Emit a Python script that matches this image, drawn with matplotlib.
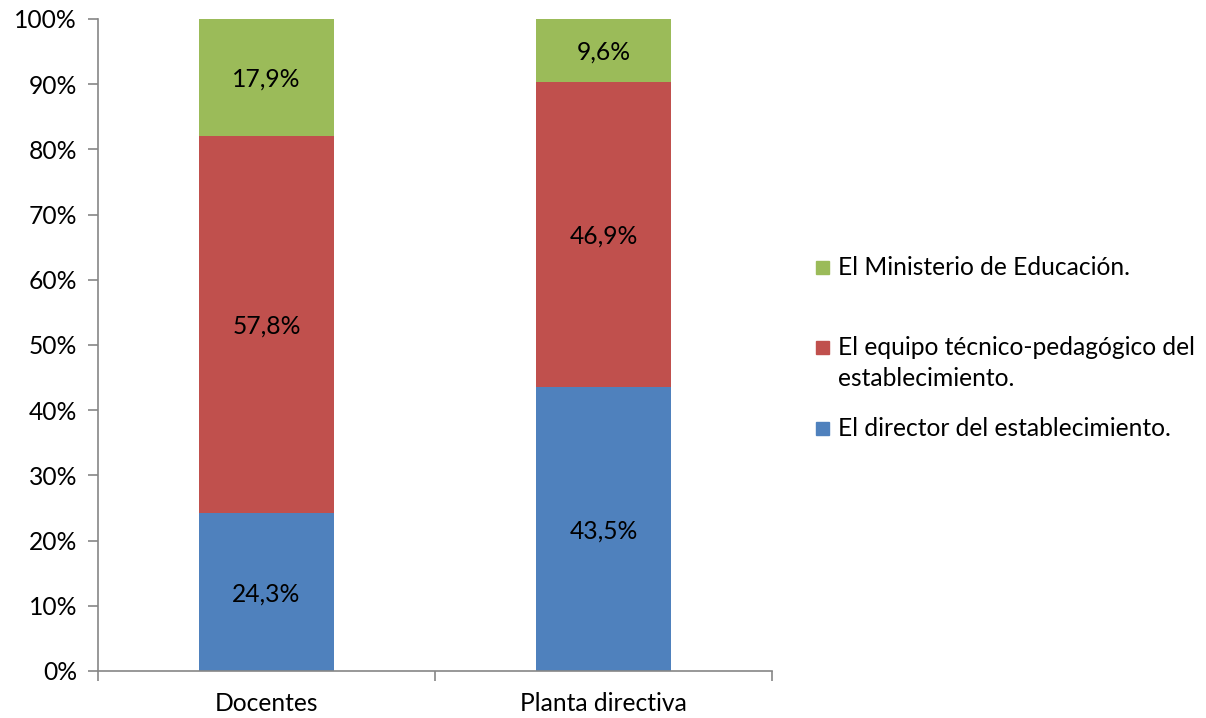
import matplotlib
matplotlib.use("Agg")
import matplotlib.pyplot as plt
from matplotlib.patches import Rectangle

plt.rcParams["font.family"] = ["Lato", "DejaVu Sans"]

categories = ["Docentes", "Planta directiva"]
series_names = [
    "El director del establecimiento.",
    "El equipo técnico-pedagógico del\nestablecimiento.",
    "El Ministerio de Educación.",
]
director = [24.3, 43.5]
equipo = [57.8, 46.9]
ministerio = [17.9, 9.6]
series_values = [director, equipo, ministerio]
colors = ["#4F81BD", "#C0504D", "#9BBB59"]
yticks = [0, 10, 20, 30, 40, 50, 60, 70, 80, 90, 100]

FS = 17.7
fig = plt.figure(figsize=(12.06, 7.18), dpi=100)
ax = fig.add_axes([98 / 1206, 1 - 671 / 718, 674 / 1206, 652 / 718])

x = list(range(len(categories)))
bottoms = [0.0] * len(categories)
for vals, col in zip(series_values, colors):
    bars = ax.bar(x, vals, width=0.4, bottom=bottoms, color=col, zorder=2)
    for b, v, base in zip(bars, vals, bottoms):
        ax.text(b.get_x() + b.get_width() / 2, base + v / 2,
                f"{v:.1f}".replace(".", ",") + "%",
                ha="center", va="center_baseline", fontsize=FS, color="black")
    bottoms = [bo + v for bo, v in zip(bottoms, vals)]

ax.set_xlim(-0.5, 1.5)
ax.set_ylim(0, 100)
ax.set_yticks(yticks)
ax.set_yticklabels([f"{t}%" for t in yticks], fontsize=FS)
ax.set_xticks(x)
ax.set_xticklabels(categories, fontsize=FS)
ax.tick_params(axis="x", length=0, pad=15)
ax.set_xticks([-0.5, 0.5, 1.5], minor=True)
ax.tick_params(axis="x", which="minor", length=7, color="#868686", width=1.2)
ax.tick_params(axis="y", length=7, color="#868686", width=1.2, pad=8)
for s in ["top", "right"]:
    ax.spines[s].set_visible(False)
for s in ["left", "bottom"]:
    ax.spines[s].set_color("#868686")
    ax.spines[s].set_linewidth(1.2)

# legend drawn in figure pixels, top entry first
legend_rows = [(2, 267), (1, 347), (0, 428)]
for idx, yc in legend_rows:
    fig.patches.append(Rectangle((816 / 1206, 1 - (yc + 7) / 718), 13 / 1206, 13 / 718,
                                 transform=fig.transFigure, color=colors[idx]))
    fig.text(838 / 1206, 1 - (yc - 11) / 718, series_names[idx], fontsize=FS,
             va="top", ha="left", linespacing=1.4)

fig.savefig("out.png", dpi=100)
